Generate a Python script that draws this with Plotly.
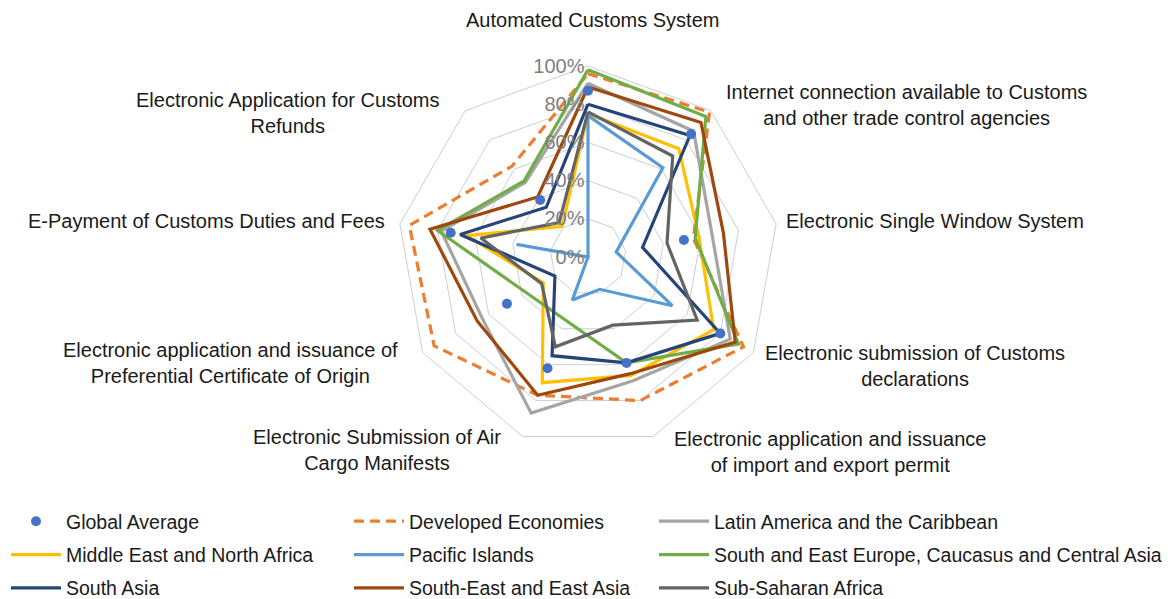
import plotly.graph_objects as go

categories = [
    "Automated Customs System",
    "Internet connection available to Customs and other trade control agencies",
    "Electronic Single Window System",
    "Electronic submission of Customs declarations",
    "Electronic application and issuance of import and export permit",
    "Electronic Submission of Air Cargo Manifests",
    "Electronic application and issuance of Preferential Certificate of Origin",
    "E-Payment of Customs Duties and Fees",
    "Electronic Application for Customs Refunds",
]

global_average = [0.87, 0.84, 0.51, 0.80, 0.59, 0.62, 0.49, 0.73, 0.39]
developed_economies = [0.96, 0.99, 0.56, 0.94, 0.80, 0.77, 0.93, 0.95, 0.62]
latin_america = [0.91, 0.86, 0.66, 0.86, 0.69, 0.87, 0.64, 0.78, 0.51]
mena = [0.75, 0.74, 0.59, 0.76, 0.66, 0.70, 0.27, 0.645, 0.21]
pacific_islands = [0.74, 0.61, 0.15, 0.51, 0.18, 0.24, 0.0, 0.38, 0.0]
seeca = [0.98, 0.96, 0.57, 0.91, 0.59, None, None, 0.80, 0.52]
south_asia = [0.80, 0.83, 0.29, 0.80, 0.59, 0.55, 0.20, 0.68, 0.34]
se_east_asia = [0.89, 0.92, 0.72, 0.89, 0.65, 0.77, 0.67, 0.84, 0.41]
sub_saharan = [0.76, 0.69, 0.42, 0.66, 0.38, 0.50, 0.28, 0.57, 0.235]

radial_ticks = [0, 0.2, 0.4, 0.6, 0.8, 1.0]
radial_tick_labels = ["0%", "20%", "40%", "60%", "80%", "100%"]

FONT = "Liberation Sans, Arial, sans-serif"
FS = 20
W, H = 1171, 599

fig = go.Figure()

def closed(v):
    return v + [v[0]]

theta_closed = categories + [categories[0]]

line_series = [
    ("Developed Economies", developed_economies, "#ED7D31", "10px,6px", "legend2", 2),
    ("Latin America and the Caribbean", latin_america, "#A5A5A5", "solid", "legend3", 3),
    ("Middle East and North Africa", mena, "#FFC000", "solid", "legend", 4),
    ("Pacific Islands", pacific_islands, "#5B9BD5", "solid", "legend2", 5),
    ("South and East Europe, Caucasus and Central Asia", seeca, "#70AD47", "solid", "legend3", 6),
    ("South Asia", south_asia, "#264478", "solid", "legend", 7),
    ("South-East and East Asia", se_east_asia, "#9E480E", "solid", "legend2", 8),
    ("Sub-Saharan Africa", sub_saharan, "#636363", "solid", "legend3", 9),
]

for name, vals, color, dash, leg, rank in line_series:
    fig.add_trace(go.Scatterpolar(
        r=closed(vals), theta=theta_closed, mode="lines", name=name,
        line=dict(color=color, width=3.2, dash=dash),
        connectgaps=True, legend=leg, legendgroup=name, legendrank=rank,
    ))

fig.add_trace(go.Scatterpolar(
    r=global_average, theta=categories, mode="markers", name="Global Average",
    marker=dict(color="#4472C4", size=10),
    legend="legend", legendgroup="Global Average", legendrank=1,
))

cx, cy, R = 588, 257, 191
fig.update_layout(
    width=W, height=H,
    margin=dict(l=0, r=0, t=0, b=0, autoexpand=False),
    paper_bgcolor="white", plot_bgcolor="white",
    font=dict(family=FONT, size=FS, color="#1a1a1a"),
    polar=dict(
        domain=dict(x=[(cx - R) / W, (cx + R) / W], y=[(H - cy - R) / H, (H - cy + R) / H]),
        gridshape="linear",
        bgcolor="white",
        radialaxis=dict(
            range=[0, 1], tickvals=radial_ticks, ticktext=radial_tick_labels,
            angle=90, tickangle=90, side="counterclockwise",
            showline=False, ticks="", gridcolor="#c9cfd5", gridwidth=1,
            tickfont=dict(size=FS, color="#7f7f7f", family=FONT),
            layer="above traces",
        ),
        angularaxis=dict(
            rotation=90, direction="clockwise", showticklabels=False,
            showgrid=False, showline=True, linecolor="#c9cfd5", linewidth=1, ticks="",
        ),
    ),
    showlegend=True,
)

leg_common = dict(orientation="v", yanchor="top", y=1 - 502 / H, xanchor="left",
                  font=dict(size=19.5, family=FONT, color="#1a1a1a"),
                  itemwidth=50, tracegroupgap=5, bgcolor="rgba(0,0,0,0)", traceorder="grouped")
fig.update_layout(
    legend=dict(x=6 / W, **leg_common),
    legend2=dict(x=349 / W, **leg_common),
    legend3=dict(x=654 / W, **leg_common),
)

labels = [
    ("Automated Customs System", 592, 20),
    ("Internet connection available to Customs<br>and other trade control agencies", 906, 105),
    ("Electronic Single Window System", 935, 221),
    ("Electronic submission of Customs<br>declarations", 915, 366),
    ("Electronic application and issuance<br>of import and export permit", 830, 452),
    ("Electronic Submission of Air<br>Cargo Manifests", 377, 450),
    ("Electronic application and issuance of<br>Preferential Certificate of Origin", 230, 363),
    ("E-Payment of Customs Duties and Fees", 206, 221),
    ("Electronic Application for Customs<br>Refunds", 287, 113),
]
for text, px, py in labels:
    fig.add_annotation(text=text, x=px / W, y=1 - py / H, xref="paper", yref="paper",
                       xanchor="center", yanchor="middle", align="center", showarrow=False,
                       font=dict(size=FS, family=FONT, color="#1a1a1a"))

fig.write_html("out.html", config={"displayModeBar": False},
               post_script="document.body.style.margin='0';")
